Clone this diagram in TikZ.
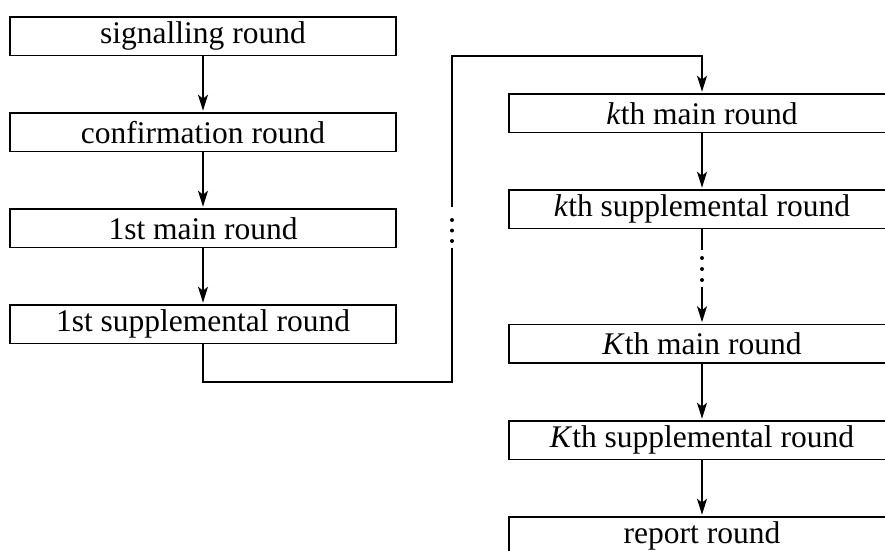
\documentclass[tikz,border=0pt]{standalone}
\usepackage{fontspec}
\setmainfont{Liberation Serif}
\usetikzlibrary{arrows.meta}
\begin{document}
\begin{tikzpicture}[x=1pt,y=-1pt,
  box/.style={draw, line width=1.6pt, minimum width=386pt, minimum height=38.5pt, inner sep=0pt, font=\fontsize{31.5}{36}\selectfont},
  conn/.style={line width=1.6pt},
  arr/.style={conn, -{Stealth[length=16pt,width=10pt,inset=4pt]}, shorten >=1.5pt},
  vdot/.style={circle, fill, inner sep=0pt, minimum size=4pt}]
\useasboundingbox (0,0) rectangle (885,550);
\clip (0,0) rectangle (885,550);
% left column
\node[box] (s1) at (203,36.25) {signalling round};
\node[box] (s2) at (203,132.25) {confirmation round};
\node[box] (s3) at (203,228.25) {1st main round};
\node[box] (s4) at (203,324.25) {1st supplemental round};
% right column
\node[box] (r1) at (702,113.25) {\textit{k}th main round};
\node[box] (r2) at (702,209.25) {\textit{k}th supplemental round};
\node[box] (r3) at (702,343.75) {\textit{K}th main round};
\node[box] (r4) at (702,440.25) {\textit{K}th supplemental round};
\node[box] (r5) at (702,536.25) {report round};
% left arrows
\draw[arr] (s1) -- (s2);
\draw[arr] (s2) -- (s3);
\draw[arr] (s3) -- (s4);
% loop connector
\coordinate (lb) at (452,382);
\coordinate (d1) at (452,248);
\coordinate (d2) at (452,207);
\coordinate (lt) at (452,56);
\node[vdot] (ld1) at (452,220) {};
\node[vdot] (ld2) at (452,230.5) {};
\node[vdot] (ld3) at (452,241) {};
\draw[conn] (s4.south) |- (lb) -- (d1);
\draw[arr] (d2) -- (lt) -| (r1.north);
% right arrows
\draw[arr] (r1) -- (r2);
\coordinate (e1) at (702,250);
\coordinate (e2) at (702,287);
\node[vdot] (rd1) at (702,258) {};
\node[vdot] (rd2) at (702,269) {};
\node[vdot] (rd3) at (702,280) {};
\draw[conn] (r2.south) -- (e1);
\draw[arr] (e2) -- (r3.north);
\draw[arr] (r3) -- (r4);
\draw[arr] (r4) -- (r5);
\end{tikzpicture}
\end{document}
